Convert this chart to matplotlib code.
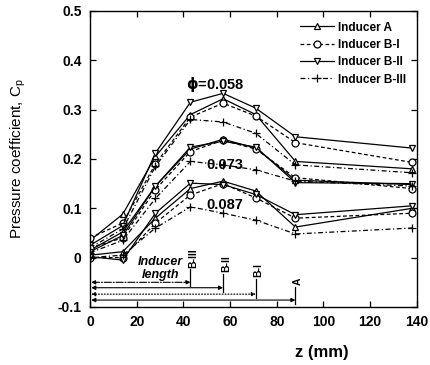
"""
Pressure coefficient along the inducer axis for three flow coefficients
"""

import numpy as np
import matplotlib
matplotlib.use('Agg')
import matplotlib.pyplot as plt

# axial positions (mm)
z = [0, 14, 28, 43, 57, 71, 88, 138]

# phi = 0.058
a_058 = [0.035, 0.088, 0.205, 0.290, 0.322, 0.290, 0.195, 0.180]
b1_058 = [0.040, 0.070, 0.190, 0.285, 0.313, 0.287, 0.233, 0.193]
b2_058 = [0.025, 0.065, 0.212, 0.315, 0.333, 0.303, 0.245, 0.222]
b3_058 = [0.020, 0.058, 0.185, 0.280, 0.275, 0.252, 0.188, 0.172]

# phi = 0.073
a_073 = [0.015, 0.052, 0.145, 0.220, 0.240, 0.222, 0.157, 0.148]
b1_073 = [0.020, 0.040, 0.138, 0.215, 0.238, 0.220, 0.162, 0.140]
b2_073 = [0.012, 0.045, 0.145, 0.224, 0.236, 0.224, 0.152, 0.150]
b3_073 = [0.010, 0.035, 0.120, 0.195, 0.188, 0.178, 0.155, 0.145]

# phi = 0.087
a_087 = [0.005, 0.012, 0.080, 0.140, 0.155, 0.135, 0.062, 0.100]
b1_087 = [0.000, 0.000, 0.070, 0.127, 0.150, 0.121, 0.080, 0.090]
b2_087 = [0.002, -0.005, 0.090, 0.151, 0.148, 0.128, 0.087, 0.105]
b3_087 = [0.000, 0.005, 0.060, 0.103, 0.090, 0.076, 0.048, 0.060]

names = ['Inducer A', 'Inducer B-I', 'Inducer B-II', 'Inducer B-III']
short = ['A', 'B-I', 'B-II', 'B-III']
ind_len = [88, 71, 57, 43]          # inducer lengths (mm)
arrow_y = [-0.086, -0.074, -0.061, -0.050]
tag_y = [-0.056, -0.040, -0.030, -0.021]   # bottom of the rotated tags

phi_txt = ['$\\mathbf{\\phi}$=0.058', '0.073', '0.087']
phi_pos = [(41, 0.350), (50, 0.188), (50, 0.106)]

# styles per inducer
mk = ['^', 'o', 'v', '+']
ls = ['-', (0, (3, 2)), '-', (0, (4, 2, 1, 2))]
arrow_ls = ['-', ':', '-', '-.']

plt.rcParams['font.family'] = ['Liberation Sans', 'DejaVu Sans']
plt.rcParams['mathtext.fontset'] = 'dejavusans'
plt.close('all')
fig = plt.figure(figsize=(4.31, 3.65), dpi=100)
ax = fig.add_axes([0.209, 0.159, 0.758, 0.811])

groups = [[a_058, b1_058, b2_058, b3_058],
          [a_073, b1_073, b2_073, b3_073],
          [a_087, b1_087, b2_087, b3_087]]

for gi, grp in enumerate(groups):
    for ii, cp in enumerate(grp):
        ax.plot(z, cp, color='k', lw=0.9, linestyle=ls[ii], marker=mk[ii],
                ms=5 if mk[ii] != '+' else 6, mfc='white', mec='k', mew=0.9,
                label=names[ii] if gi == 0 else None)

for txt, (xx, yy) in zip(phi_txt, phi_pos):
    ax.text(xx, yy, txt, fontsize=10.5, fontweight='bold', ha='left',
            va='center')

# inducer length arrows with end markers and tags
for ii in range(4):
    L = ind_len[ii]
    y = arrow_y[ii]
    ax.annotate('', xy=(L, y), xytext=(0.5, y),
                arrowprops=dict(arrowstyle='<|-|>', color='k', lw=0.8,
                                linestyle=arrow_ls[ii], mutation_scale=6,
                                shrinkA=0, shrinkB=0))
    ax.plot([L, L], [y - 0.008, tag_y[ii] - 0.003], color='k', lw=0.9)
    ax.text(L + 1.2, tag_y[ii], short[ii], rotation=90, fontsize=7.5,
            fontweight='bold', ha='center', va='bottom')

ax.text(30, -0.009, 'Inducer', fontsize=9, fontweight='bold', style='italic',
        ha='center', va='center')
ax.text(30, -0.035, 'length', fontsize=9, fontweight='bold', style='italic',
        ha='center', va='center')

ax.set_xlim(0, 140)
ax.set_ylim(-0.1, 0.5)
ax.set_xticks(np.arange(0, 141, 20))
ax.set_yticks([-0.1, 0, 0.1, 0.2, 0.3, 0.4, 0.5])
ax.set_yticklabels(['-0.1', '0', '0.1', '0.2', '0.3', '0.4', '0.5'])
ax.tick_params(direction='in', top=True, right=True, length=4, width=0.9,
               labelsize=10, pad=6)
for lab in ax.get_xticklabels() + ax.get_yticklabels():
    lab.set_fontweight('bold')
for sp in ax.spines.values():
    sp.set_linewidth(1.0)

ax.set_xlabel('z (mm)', fontsize=12, fontweight='bold', labelpad=12)
ax.xaxis.set_label_coords(0.71, -0.13)
ax.set_ylabel('Pressure coefficient, C$_\\mathregular{p}$', fontsize=11)
ax.yaxis.set_label_coords(-0.19, 0.5)

leg = ax.legend(loc='upper right', frameon=False, fontsize=8.5,
                handlelength=2.9, handletextpad=0.3, labelspacing=0.45,
                borderaxespad=0.5)
for t in leg.get_texts():
    t.set_fontweight('bold')

fig.savefig('out.png', dpi=100)
